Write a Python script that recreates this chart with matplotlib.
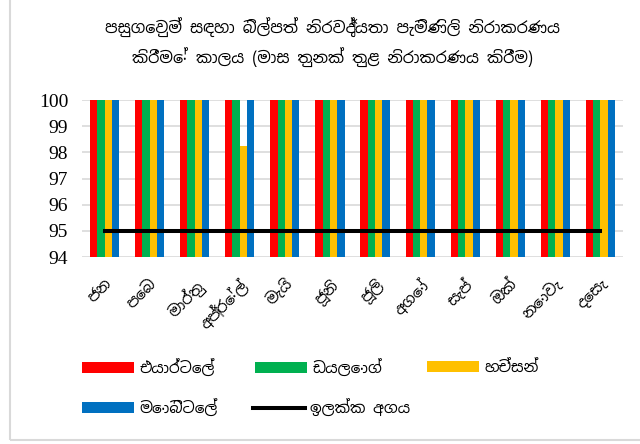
import matplotlib
matplotlib.use("Agg")
import numpy as np
import matplotlib.pyplot as plt
from matplotlib.patches import Rectangle

months = ["ජන", "පෙබ", "මාර්තු", "අප්‍රේල්", "මැයි", "ජූනි", "ජූලි", "අගෝ",
          "සැප්", "ඔක්", "නොවැ", "දෙසැ"]
airtel = [100, 100, 100, 100, 100, 100, 100, 100, 100, 100, 100, 100]
dialog = [100, 100, 100, 100, 100, 100, 100, 100, 100, 100, 100, 100]
hutch = [100, 100, 100, 98.25, 100, 100, 100, 100, 100, 100, 100, 100]
mobitel = [100, 100, 100, 100, 100, 100, 100, 100, 100, 100, 100, 100]
target = [95] * 12

series_names = ["එයාර්ටෙල්", "ඩයලොග්", "හච්සන්", "මොබිටෙල්"]
target_name = "ඉලක්ක අගය"
colors = ["#FF0000", "#00B050", "#FFC000", "#0070C0"]

title = ("පසුගෙවුම් සඳහා බිල්පත් නිරවද්‍යතා පැමිණිලි නිරාකරණය\n"
         "කිරීමේ කාලය (මාස තුනක් තුළ නිරාකරණය කිරීම)")

si_font = ["Noto Sans Sinhala", "DejaVu Sans"]
W, H = 640, 444

fig = plt.figure(figsize=(6.4, 4.44), dpi=100)
ax = fig.add_axes([82 / W, 1 - 257 / H, 541 / W, 157 / H])

x = np.arange(len(months))
w = 0.162
bars = []
for i, vals in enumerate([airtel, dialog, hutch, mobitel]):
    b = ax.bar(x + (i - 1.5) * w, vals, width=w, color=colors[i],
               label=series_names[i], zorder=2)
    bars.append(b)
line, = ax.plot(x, target, color="black", lw=2.9, label=target_name, zorder=3)

ax.set_xlim(-0.5, len(months) - 0.5)
ax.set_ylim(94, 100)
ax.set_yticks(range(94, 101))
ax.tick_params(axis="y", length=0, labelsize=14, pad=10)
for t in ax.get_yticklabels():
    t.set_fontfamily("Liberation Serif")
ax.yaxis.grid(True, color="#d9d9d9", lw=1.2, zorder=0)
for s in ax.spines.values():
    s.set_visible(False)

ax.set_xticks(x)
ax.set_xticklabels(months, rotation=45, ha="right", rotation_mode="anchor",
                   family=si_font, fontsize=11)
ax.tick_params(axis="x", length=0, pad=14)

fig.text(0.52, 0.905, title, ha="center", va="center", family=si_font,
         fontsize=11.5, linespacing=1.6)

# legend: one entry per box so the columns sit where Excel put them
entries = [(bars[0], series_names[0], 82, 368),
           (bars[1], series_names[1], 255, 368),
           (bars[2], series_names[2], 427, 368),
           (bars[3], series_names[3], 82, 408),
           (line, target_name, 253, 408)]
for h, lab, lx, ly in entries:
    fig.legend([h], [lab], loc="center left",
               bbox_to_anchor=(lx / W, 1 - ly / H), frameon=False,
               prop={"family": si_font, "size": 11}, handlelength=3.4,
               handleheight=0.72, handletextpad=0.35, borderpad=0,
               borderaxespad=0)

fig.patches.append(Rectangle((10 / W, 4 / H), 1.0, 1.0, transform=fig.transFigure,
                             fill=False, edgecolor="#d9d9d9", lw=1.5))

fig.savefig("out.png", dpi=100)
